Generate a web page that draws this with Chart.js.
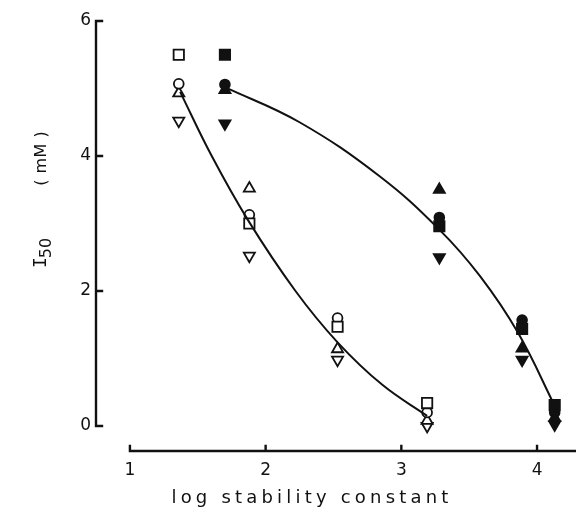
<!DOCTYPE html>
<html>
<head>
<meta charset="utf-8">
<script src="https://cdn.jsdelivr.net/npm/chart.js@4.4.1/dist/chart.umd.min.js"></script>
<style>
  html, body { margin: 0; padding: 0; background: #fff; }
  #wrap { width: 576px; height: 515px; }
</style>
</head>
<body>
<div id="wrap"><canvas id="myChart"></canvas></div>
<script>
// open symbols, left curve
const openX = [1.36, 1.88, 2.53, 3.19];
const openSquare = [5.5, 3.0, 1.47, 0.34];
const openCircle = [5.07, 3.13, 1.6, 0.2];
const openUp = [4.93, 3.52, 1.14, 0.08];
const openDown = [4.52, 2.52, 0.98, 0.0];

// filled symbols, right curve
const fillX = [1.70, 3.28, 3.89, 4.13];
const fillSquare = [5.5, 2.96, 1.44, 0.31];
const fillCircle = [5.06, 3.09, 1.57, 0.2];
const fillUp = [4.98, 3.5, 1.15, 0.12];
const fillDown = [4.48, 2.5, 0.98, 0.02];

// the two drawn curves
const openCurveX = [1.37, 1.6, 1.87, 2.22, 2.53, 2.86, 3.19];
const openCurveY = [4.95, 4.01, 3.05, 2.00, 1.24, 0.61, 0.15];
const fillCurveX = [1.70, 2.25, 2.84, 3.28, 3.58, 3.86, 4.14];
const fillCurveY = [5.02, 4.50, 3.70, 2.91, 2.22, 1.38, 0.26];

const xTicks = [1, 2, 3, 4];
const yTicks = [0, 2, 4, 6];
const xTitle = 'log stability constant';
const yTitleMain = 'I';
const yTitleSub = '50';
const yTitleUnit = '( mM )';

const ink = '#111';
const fontName = '"DejaVu Sans", sans-serif';

function pts(xs, ys) {
    return xs.map((x, i) => ({x: x, y: ys[i]}));
}

function markers(label, xs, ys, style, filled, radius, rot) {
    return {
        label: label,
        data: pts(xs, ys),
        showLine: false,
        pointStyle: style,
        pointRotation: rot || 0,
        pointRadius: radius,
        pointBorderWidth: 1.8,
        pointBackgroundColor: filled ? ink : '#fff',
        pointBorderColor: ink,
        clip: false
    };
}

function curve(label, xs, ys) {
    return {
        label: label,
        data: pts(xs, ys),
        showLine: true,
        borderColor: ink,
        borderWidth: 2,
        pointRadius: 0,
        tension: 0.4,
        clip: false
    };
}

// axis lines with inward ticks, and the two axis titles
const axesPlugin = {
    id: 'axesPlugin',
    afterDraw(chart) {
        const ctx = chart.ctx;
        const xs = chart.scales.x, ys = chart.scales.y;
        const area = chart.chartArea;
        ctx.save();
        ctx.strokeStyle = ink;
        ctx.lineWidth = 2.4;
        ctx.lineCap = 'square';
        ctx.beginPath();
        const ax = area.left;
        ctx.moveTo(ax, ys.getPixelForValue(yTicks[0]));
        ctx.lineTo(ax, ys.getPixelForValue(yTicks[yTicks.length - 1]));
        yTicks.forEach(v => {
            const p = ys.getPixelForValue(v);
            ctx.moveTo(ax, p);
            ctx.lineTo(ax + 6, p);
        });
        const ay = area.bottom;
        ctx.moveTo(xs.getPixelForValue(xTicks[0]), ay);
        ctx.lineTo(chart.width, ay);
        xTicks.forEach(v => {
            const p = xs.getPixelForValue(v);
            ctx.moveTo(p, ay);
            ctx.lineTo(p, ay - 5);
        });
        ctx.stroke();

        ctx.fillStyle = ink;
        ctx.textBaseline = 'alphabetic';
        ctx.font = '18px ' + fontName;
        ctx.letterSpacing = '4.2px';
        ctx.textAlign = 'center';
        ctx.fillText(xTitle, 312, 503);

        // y title, rotated
        ctx.translate(46, 200);
        ctx.rotate(-Math.PI / 2);
        ctx.textAlign = 'left';
        ctx.letterSpacing = '0px';
        let tx = -68;
        ctx.font = '18px "DejaVu Sans Mono", monospace';
        ctx.fillText(yTitleMain, tx, 0);
        tx += ctx.measureText(yTitleMain).width - 1;
        ctx.font = '16px ' + fontName;
        ctx.fillText(yTitleSub, tx, 5);
        tx += ctx.measureText(yTitleSub).width + 52;
        ctx.font = '16px ' + fontName;
        ctx.letterSpacing = '0.5px';
        ctx.fillText(yTitleUnit, tx, 0);
        ctx.restore();
    }
};

const chart = new Chart('myChart', {
    type: 'scatter',
    data: {
        datasets: [
            curve('open fit', openCurveX, openCurveY),
            curve('filled fit', fillCurveX, fillCurveY),
            markers('open square', openX, openSquare, 'rect', false, 7.3),
            markers('open circle', openX, openCircle, 'circle', false, 4.9),
            markers('open up', openX, openUp, 'triangle', false, 6.4),
            markers('open down', openX, openDown, 'triangle', false, 6.4, 180),
            markers('filled square', fillX, fillSquare, 'rect', true, 7.3),
            markers('filled circle', fillX, fillCircle, 'circle', true, 4.9),
            markers('filled up', fillX, fillUp, 'triangle', true, 6.4),
            markers('filled down', fillX, fillDown, 'triangle', true, 6.4, 180)
        ]
    },
    options: {
        responsive: true,
        maintainAspectRatio: false,
        animation: false,
        layout: { padding: { top: 21, right: 0, left: 0, bottom: 0 } },
        plugins: { legend: { display: false }, tooltip: { enabled: false } },
        scales: {
            x: {
                type: 'linear',
                min: 0.75,
                max: 4.22,
                grid: { display: false, drawTicks: false },
                border: { display: false },
                afterBuildTicks: s => { s.ticks = xTicks.map(v => ({value: v})); },
                afterFit: s => { s.height = 64; },
                ticks: { color: ink, padding: 9, font: { family: fontName, size: 17 } }
            },
            y: {
                type: 'linear',
                min: -0.37,
                max: 6,
                grid: { display: false, drawTicks: false },
                border: { display: false },
                afterBuildTicks: s => { s.ticks = yTicks.map(v => ({value: v})); },
                afterFit: s => { s.width = 96; },
                ticks: { color: ink, padding: 5, font: { family: fontName, size: 17 } }
            }
        }
    },
    plugins: [axesPlugin]
});
</script>
</body>
</html>
